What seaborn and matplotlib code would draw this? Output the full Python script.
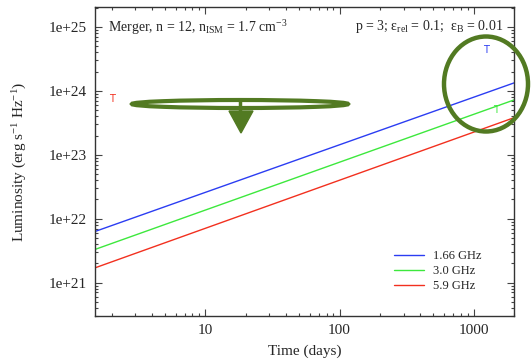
import matplotlib
matplotlib.use("Agg")
import matplotlib.pyplot as plt
import seaborn as sns
import pandas as pd
import numpy as np
from matplotlib.patches import Ellipse, Polygon
from matplotlib.lines import Line2D

# ---- data ----
frequencies = ["1.66 GHz", "3.0 GHz", "5.9 GHz"]
colors = ["#2b3df2", "#3de83d", "#f2301f"]
times = [1.5, 2000.0]
lum_166 = [6.3e21, 1.33e24]
lum_30 = [3.3e21, 7.2e23]
lum_59 = [1.7e21, 3.8e23]
# upper-limit style "T" markers (time, luminosity) per band
t_marks_time = [1230.0, 1460.0, 2.02]
t_marks_lum = [4.4e24, 5.0e23, 7.5e23]

xticks = [10, 100, 1000]
xticklabels = ["10", "100", "1000"]
yticks = [1e21, 1e22, 1e23, 1e24, 1e25]
yticklabels = ["1e+21", "1e+22", "1e+23", "1e+24", "1e+25"]

df = pd.DataFrame({
    "time": times * 3,
    "lum": lum_166 + lum_30 + lum_59,
    "band": [frequencies[0]] * 2 + [frequencies[1]] * 2 + [frequencies[2]] * 2,
})

sns.set_style("ticks")
plt.rcParams["font.family"] = ["Liberation Serif", "DejaVu Serif"]
plt.rcParams["mathtext.fontset"] = "custom"
plt.rcParams["mathtext.rm"] = "Liberation Serif"
plt.rcParams["mathtext.it"] = "Liberation Serif:italic"
plt.rcParams["mathtext.bf"] = "Liberation Serif:bold"

W, H = 531, 364
fig = plt.figure(figsize=(W / 100, H / 100), dpi=100)
ax = fig.add_axes([95 / W, 1 - 316 / H, (514 - 95) / W, (316 - 7) / H])

sns.lineplot(data=df, x="time", y="lum", hue="band", palette=colors,
             hue_order=frequencies, ax=ax, linewidth=1.0, legend=True)
ax.set_xscale("log")
ax.set_yscale("log")
ax.set_xlim(1.5, 2000)
ax.set_ylim(3.0e20, 2.05e25)

ax.set_xticks(xticks)
ax.set_xticklabels(xticklabels)
ax.set_yticks(yticks)
ax.set_yticklabels(yticklabels)
ax.tick_params(which="both", direction="in", top=True, right=True, labelsize=11,
               color="#444444", width=0.8)
ax.tick_params(which="major", length=5, pad=6)
ax.tick_params(which="minor", length=2.5)
for sp in ax.spines.values():
    sp.set_color("#333333")
    sp.set_linewidth(1.0)

ax.set_xlabel("Time (days)", fontsize=11, labelpad=5)
ax.set_ylabel(r"Luminosity (erg s$^{-1}$ Hz$^{-1}$)", fontsize=11, labelpad=14)

leg = ax.legend(frameon=False, fontsize=9, loc="lower right",
                bbox_to_anchor=(0.949, 0.04), handlelength=2.4,
                handletextpad=0.7, labelspacing=0.25)

for tx, ty, c in zip(t_marks_time, t_marks_lum, colors):
    ax.text(tx, ty, "T", color=c, fontsize=7, family="DejaVu Sans",
            ha="center", va="center")

ax.text(0.03, 0.965, r"Merger, n = 12, n$_{\rm ISM}$ = 1.7 cm$^{-3}$",
        transform=ax.transAxes, fontsize=10, ha="left", va="top")
ax.text(0.975, 0.965, "p = 3; ε$_{\\rm rel}$ = 0.1;  ε$_{\\rm B}$ = 0.01",
        transform=ax.transAxes, fontsize=10, ha="right", va="top")

# ---- green hand-drawn style annotations (figure pixel coords) ----
def fx(x):
    return x / W

def fy(y):
    return 1 - y / H

g = "#527a22"
fig.patches.append(Ellipse((fx(240), fy(104)), 216 / W, 8 / H, fill=False,
                           edgecolor=g, linewidth=3.0, transform=fig.transFigure))
fig.lines.append(Line2D([fx(240), fx(240)], [fy(100), fy(113)], color=g,
                        linewidth=2.5, transform=fig.transFigure))
fig.patches.append(Polygon([(fx(229), fy(111)), (fx(253), fy(111)), (fx(241), fy(133))],
                           closed=True, facecolor=g, edgecolor=g,
                           transform=fig.transFigure))
fig.patches.append(Ellipse((fx(486), fy(84)), 84 / W, 95 / H, fill=False,
                           edgecolor=g, linewidth=3.2, transform=fig.transFigure))

fig.savefig("out.png", dpi=100)
